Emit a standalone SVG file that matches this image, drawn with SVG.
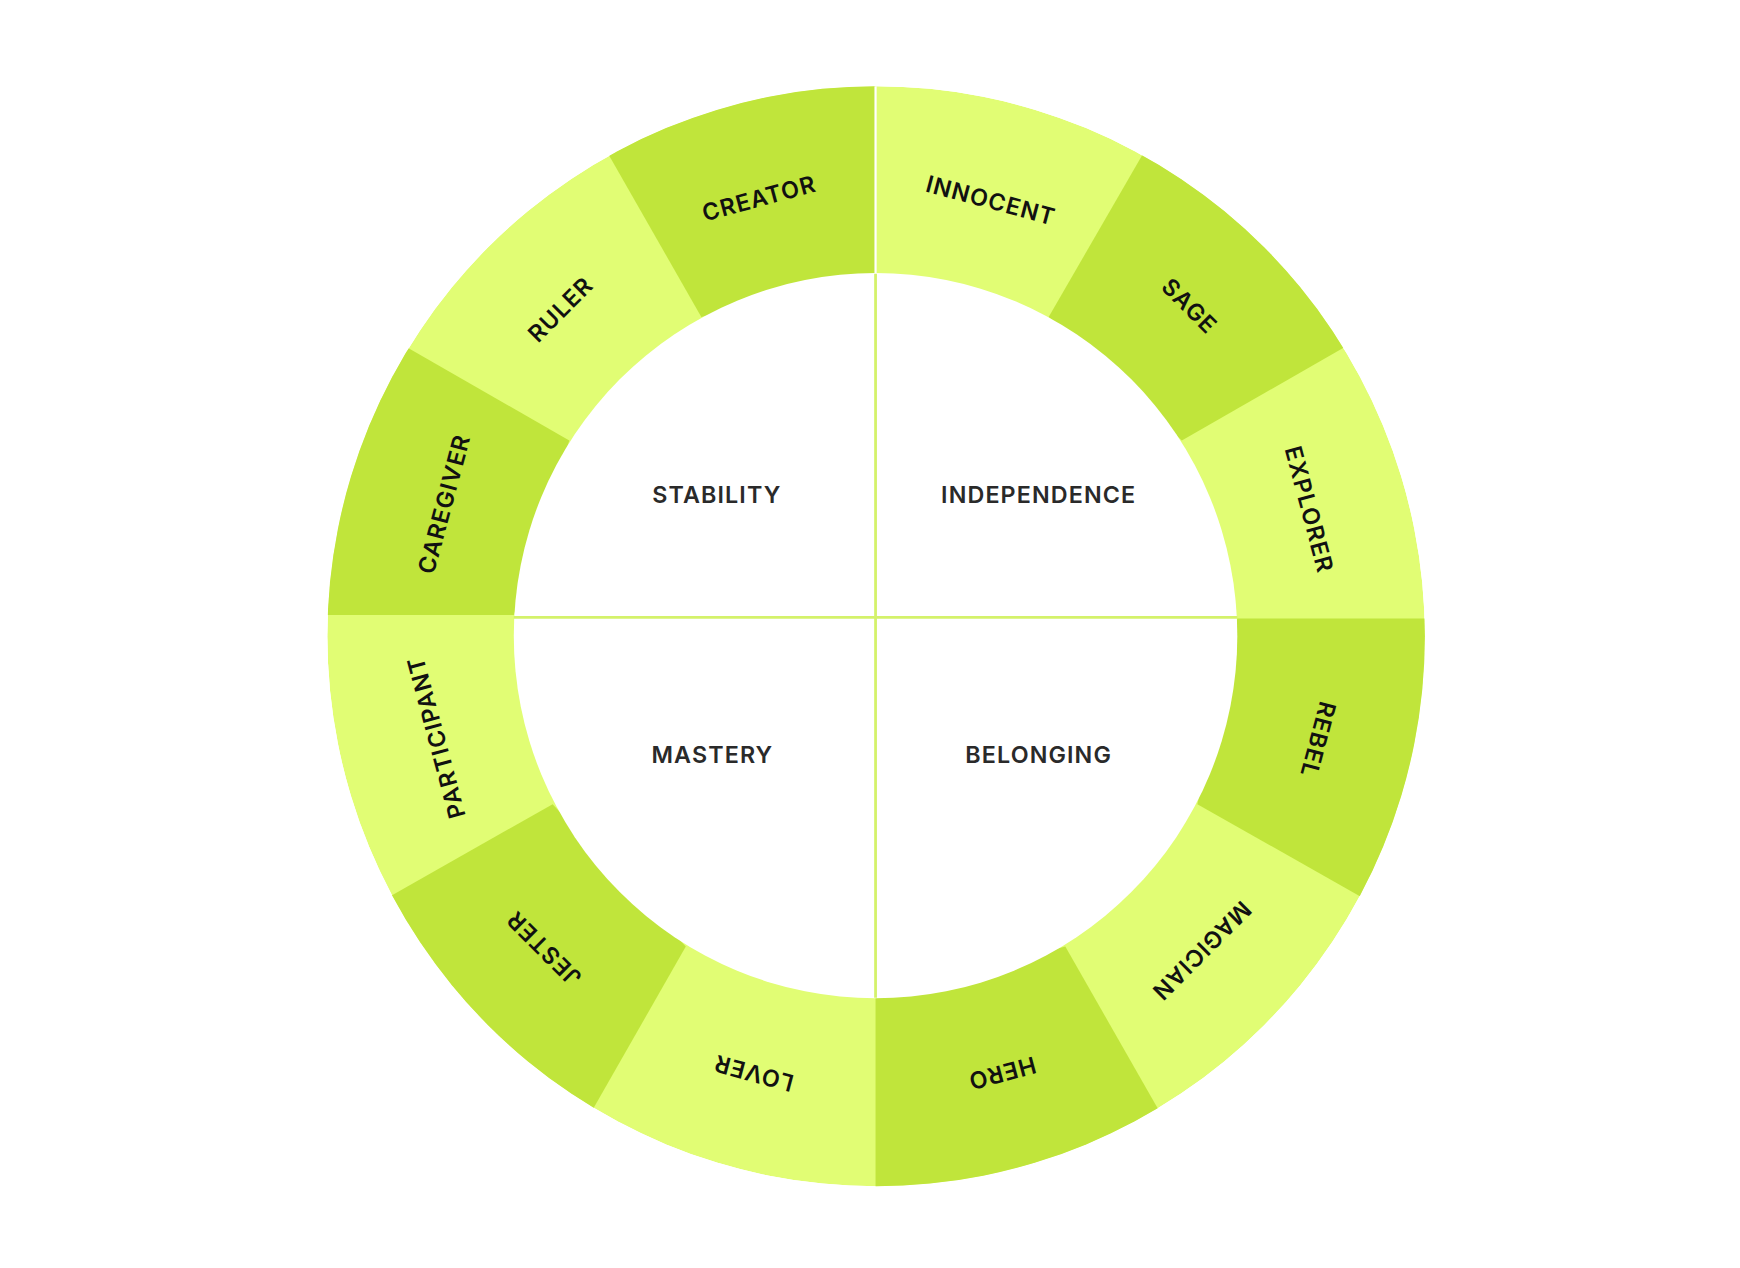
<svg xmlns="http://www.w3.org/2000/svg" width="1740" height="1268" viewBox="0 0 1740 1268">
<style>
.seg{fill:#c0e53b}
.lbl{font-family:Inter,"Noto Sans",sans-serif;font-weight:600;font-size:21px;fill:#111;text-anchor:middle;dominant-baseline:central;letter-spacing:1px}
.ctr{font-family:Inter,"Noto Sans",sans-serif;font-weight:600;font-size:21px;fill:#2a2a2a;text-anchor:middle;dominant-baseline:central;letter-spacing:1px}
</style>
<defs><clipPath id="ring"><circle cx="789.5" cy="572" r="494.5"/></clipPath></defs>
<rect width="1740" height="1268" fill="#fff"/>
<g transform="scale(1.1097,1.1123)">
<g id="wheel" clip-path="url(#ring)">
<circle cx="789.5" cy="572" r="494.5" fill="#e1fd74"/>
<polygon class="seg" points="632,285 466,-5 789,-5 789,246"/>
<polygon class="seg" points="945,285 1113,-5 1355,230 1065,396"/>
<polygon class="seg" points="513,396 223,230 200,553 463,553"/>
<polygon class="seg" points="1115,556 1380,556 1369,887 1079,723"/>
<polygon class="seg" points="498,723 208,887 452,1141 618,851"/>
<polygon class="seg" points="789,897 789,1150 1126,1141 960,851"/>
<line x1="789" y1="70" x2="789" y2="250" stroke="#fff" stroke-width="2"/>
<circle cx="789" cy="571.5" r="326" fill="#fff"/>
</g>
<g id="connectors" stroke="#d4f26a" stroke-width="2.5">
<line x1="789" y1="246" x2="789" y2="897"/>
<line x1="463" y1="555" x2="1115" y2="555"/>
</g>
<g id="labels">
<text class="lbl" transform="translate(684,178) rotate(-15)">CREATOR</text>
<text class="lbl" transform="translate(893,180) rotate(15)">INNOCENT</text>
<text class="lbl" transform="translate(1072,275) rotate(45)">SAGE</text>
<text class="lbl" transform="translate(1180,458) rotate(75)">EXPLORER</text>
<text class="lbl" transform="translate(1188,665) rotate(105)">REBEL</text>
<text class="lbl" transform="translate(1083,855) rotate(135)">MAGICIAN</text>
<text class="lbl" transform="translate(903,965) rotate(165)">HERO</text>
<text class="lbl" transform="translate(679,965) rotate(195)">LOVER</text>
<text class="lbl" transform="translate(490,853) rotate(225)">JESTER</text>
<text class="lbl" transform="translate(393,663) rotate(-105)">PARTICIPANT</text>
<text class="lbl" transform="translate(400,453) rotate(-75)">CAREGIVER</text>
<text class="lbl" transform="translate(505,278) rotate(-45)">RULER</text>
</g>
<g id="centers">
<text class="ctr" x="646" y="445">STABILITY</text>
<text class="ctr" x="936" y="445">INDEPENDENCE</text>
<text class="ctr" x="642" y="678">MASTERY</text>
<text class="ctr" x="936" y="678">BELONGING</text>
</g>
</g>
</svg>
